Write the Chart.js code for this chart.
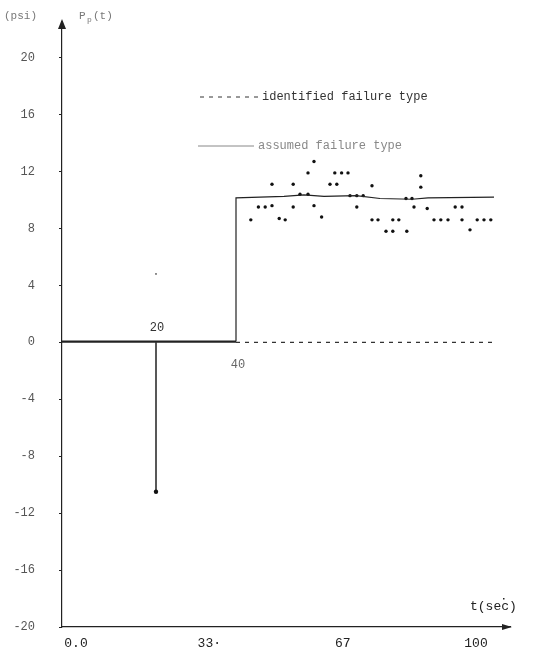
<!DOCTYPE html>
<html>
<head>
<meta charset="utf-8">
<script src="https://cdn.jsdelivr.net/npm/chart.js@4"></script>
<style>
  html, body { margin: 0; padding: 0; background: #fff; overflow: hidden; }
</style>
</head>
<body>
<canvas id="myChart" width="544" height="654"></canvas>
<script>
// step line (assumed failure type)
var stepT = [-3.5, 40, 40, 46, 52, 57, 62, 70, 76, 84, 88, 104.5];
var stepP = [0.05, 0.05, 10.15, 10.2, 10.25, 10.35, 10.25, 10.3, 10.1, 10.05, 10.15, 10.2];
// dashed zero line (identified failure type)
var zeroT = [40, 105];
var zeroP = [0, 0];
// spike at t=20
var spikeT = [20, 20];
var spikeP = [0, -10.5];
// measured points
var measT = [43.7, 45.6, 47.3, 49, 49, 50.8, 52.3, 54.3, 54.3, 56, 58, 58, 59.5, 59.5, 61.4, 63.5, 65.2, 64.7, 66.4, 68, 68.5, 70.2, 70.2, 71.8, 74, 74, 75.5, 77.5, 79.2, 79.2, 80.7, 82.5, 82.7, 84, 84.5, 86.2, 86.2, 87.8, 89.5, 91.2, 93, 94.8, 96.5, 96.5, 98.5, 100.3, 102, 103.7];
var measP = [8.6, 9.5, 9.5, 9.6, 11.1, 8.7, 8.6, 11.1, 9.5, 10.4, 11.9, 10.4, 12.7, 9.6, 8.8, 11.1, 11.1, 11.9, 11.9, 11.9, 10.3, 9.5, 10.3, 10.3, 11.0, 8.6, 8.6, 7.8, 7.8, 8.6, 8.6, 10.1, 7.8, 10.1, 9.5, 11.7, 10.9, 9.4, 8.6, 8.6, 8.6, 9.5, 9.5, 8.6, 7.9, 8.6, 8.6, 8.6];
var strayT = [20];
var strayP = [4.8];

var xTicks = [0, 33.33, 66.67, 100];
var xTickLabels = ['0.0', '33·', '67', '100'];
var yTicks = [-20, -16, -12, -8, -4, 0, 4, 8, 12, 16, 20];

function pts(xs, ys) {
  return xs.map(function(x, i) { return {x: x, y: ys[i]}; });
}

var mono = '"Liberation Mono", "DejaVu Sans Mono", monospace';

var decor = {
  id: 'decor',
  afterDraw: function(chart) {
    var c = chart.ctx;
    var xs = chart.scales.x;
    var area = chart.chartArea;
    c.save();
    c.fillStyle = '#222';
    // arrow on y axis
    c.beginPath();
    c.moveTo(area.left - 4, area.top + 7);
    c.lineTo(area.left, area.top - 3);
    c.lineTo(area.left + 4, area.top + 7);
    c.closePath();
    c.fill();
    // arrow on x axis
    c.beginPath();
    c.moveTo(area.right - 8, area.bottom - 3);
    c.lineTo(area.right + 2, area.bottom);
    c.lineTo(area.right - 8, area.bottom + 3);
    c.closePath();
    c.fill();
    // axis titles
    c.font = '11px ' + mono;
    c.fillStyle = '#777';
    c.textBaseline = 'middle';
    c.textAlign = 'left';
    c.fillText('(psi)', 4, 16);
    c.fillText('P', 79, 16);
    c.font = '8px ' + mono;
    c.fillText('p', 87, 20);
    c.font = '11px ' + mono;
    c.fillText('(t)', 93, 16);
    c.font = '13px ' + mono;
    c.fillStyle = '#222';
    c.fillText('t(sec)', 470, 607);
    c.fillRect(503, 598, 1.5, 1.5);
    // labels on data
    c.font = '12px ' + mono;
    c.textAlign = 'center';
    c.fillStyle = '#333';
    c.fillText('20', xs.getPixelForValue(20) + 1, 328);
    c.fillStyle = '#666';
    c.fillText('40', xs.getPixelForValue(40) + 2, 365);
    // legend
    var items = [
      {ds: chart.data.datasets[1], y: 97, x0: 200, x1: 258, tx: 262, color: '#333'},
      {ds: chart.data.datasets[0], y: 146, x0: 198, x1: 254, tx: 258, color: '#888'}
    ];
    c.textAlign = 'left';
    items.forEach(function(it) {
      c.beginPath();
      c.setLineDash(it.ds.borderDash || []);
      c.lineWidth = 1;
      c.strokeStyle = it.color;
      c.moveTo(it.x0, it.y);
      c.lineTo(it.x1, it.y);
      c.stroke();
      c.setLineDash([]);
      c.fillStyle = it.color;
      c.font = '12px ' + mono;
      c.fillText(it.ds.label, it.tx, it.y);
    });
    c.restore();
  }
};

var ctx = document.getElementById('myChart');
var myChart = new Chart(ctx, {
  type: 'scatter',
  data: {
    datasets: [
      {
        label: 'assumed failure type',
        type: 'line',
        data: pts(stepT, stepP),
        borderColor: '#222',
        borderWidth: 1.2,
        pointRadius: 0,
        tension: 0,
        segment: {
          borderWidth: function(s) { return s.p1.parsed.x <= 40 && s.p1.parsed.y < 1 ? 2.2 : 1.2; }
        }
      },
      {
        label: 'identified failure type',
        type: 'line',
        data: pts(zeroT, zeroP),
        borderColor: '#333',
        borderWidth: 1.2,
        borderDash: [4, 5],
        pointRadius: 0
      },
      {
        label: 'spike',
        type: 'line',
        data: pts(spikeT, spikeP),
        borderColor: '#222',
        borderWidth: 1.5,
        pointRadius: [0, 2.2],
        pointBackgroundColor: '#111',
        pointBorderWidth: 0
      },
      {
        label: 'measured',
        data: pts(measT, measP),
        pointRadius: 1.7,
        pointBackgroundColor: '#111',
        pointBorderWidth: 0
      },
      {
        label: 'stray',
        data: pts(strayT, strayP),
        pointRadius: 0.9,
        pointBackgroundColor: '#555',
        pointBorderWidth: 0
      }
    ]
  },
  options: {
    responsive: false,
    animation: false,
    layout: { padding: { top: 22, right: 34, left: 0, bottom: 0 } },
    plugins: {
      legend: { display: false },
      tooltip: { enabled: false }
    },
    scales: {
      x: {
        type: 'linear',
        min: -3.5,
        max: 108.5,
        afterBuildTicks: function(scale) {
          scale.ticks = xTicks.map(function(v) { return {value: v}; });
        },
        afterFit: function(scale) { scale.height = 27; },
        grid: { display: true, drawOnChartArea: false, drawTicks: false, color: '#222' },
        border: { color: '#222', width: 1.2 },
        ticks: {
          padding: 9,
          color: '#222',
          font: { family: mono, size: 13 },
          maxRotation: 0,
          callback: function(value, index) { return xTickLabels[index]; }
        }
      },
      y: {
        min: -20,
        max: 22.5,
        afterBuildTicks: function(scale) {
          scale.ticks = yTicks.map(function(v) { return {value: v}; });
        },
        afterFit: function(scale) {
          scale.width = 62;
          scale.paddingTop = 0;
          scale.paddingBottom = 0;
        },
        grid: { display: true, drawOnChartArea: false, tickLength: 3, color: '#222' },
        border: { color: '#222', width: 1.2 },
        ticks: {
          padding: 24,
          color: '#555',
          font: { family: mono, size: 12 },
          callback: function(value) { return value; }
        }
      }
    }
  },
  plugins: [decor]
});
</script>
</body>
</html>
